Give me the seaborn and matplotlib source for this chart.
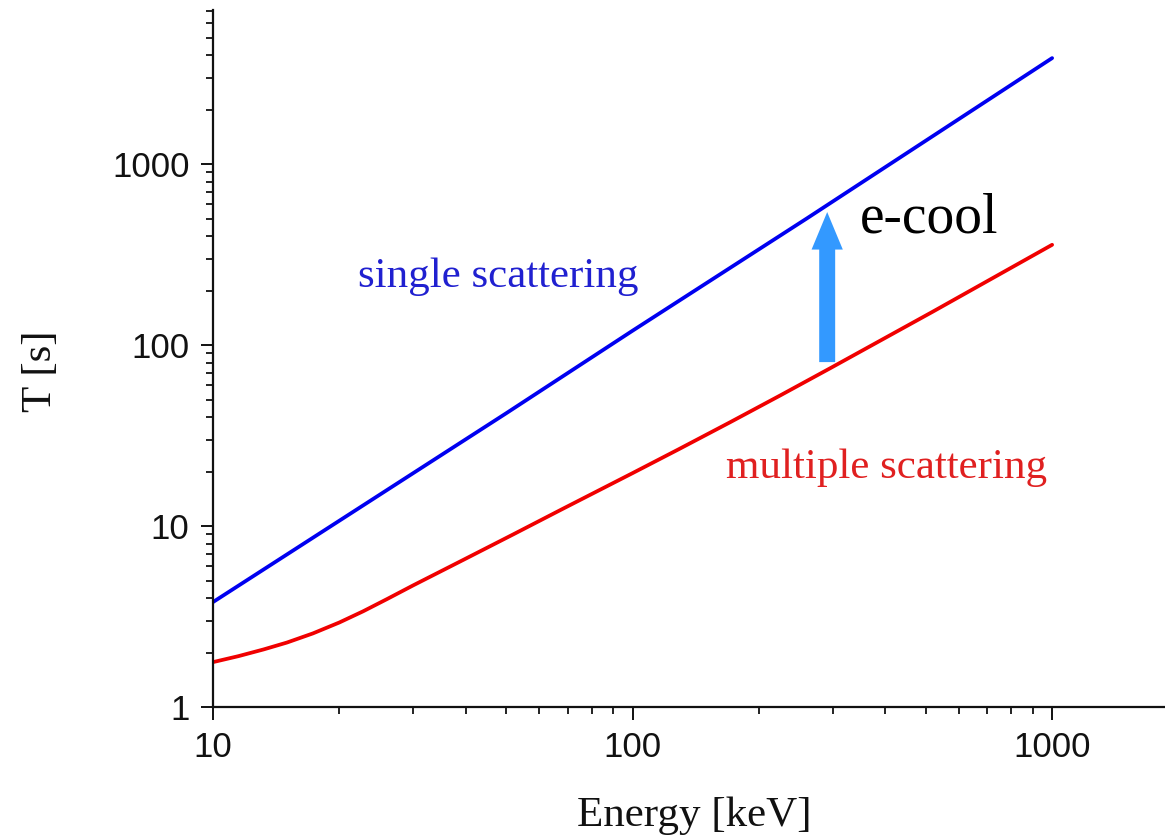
import matplotlib
matplotlib.use("Agg")
import matplotlib.pyplot as plt
import pandas as pd
import seaborn as sns
from matplotlib.ticker import FixedLocator, FixedFormatter, LogLocator, NullFormatter

# ---- data ----
energy_single = [10, 50, 100, 260, 1000]
time_single = [3.8, 42, 120, 500, 3850]

energy_multiple = [10, 11.5, 13.2, 15, 17.3, 20, 22.8, 26, 30, 39.5, 52, 68.2,
                   100, 129, 171, 225, 296, 519, 1000]
time_multiple = [1.77, 1.91, 2.08, 2.27, 2.55, 2.93, 3.38, 3.95, 4.7, 6.5, 9.0,
                 12.45, 19.6, 26.6, 37.5, 52.7, 74.5, 152.7, 358.0]

x_ticks = [10, 100, 1000]
x_tick_labels = ["10", "100", "1000"]
y_ticks = [1, 10, 100, 1000]
y_tick_labels = ["1", "10", "100", "1000"]

df_single = pd.DataFrame({"Energy": energy_single, "T": time_single})
df_multiple = pd.DataFrame({"Energy": energy_multiple, "T": time_multiple})

sns.set_style("ticks")
plt.rcParams["font.family"] = ["Liberation Sans", "DejaVu Sans"]

W, H = 1165, 840
fig = plt.figure(figsize=(W / 100, H / 100), dpi=100)
ax = fig.add_axes([213 / W, 133 / H, 952 / W, 697 / H])
ax.set_xscale("log")
ax.set_yscale("log")

sns.lineplot(data=df_single, x="Energy", y="T", color="#0000f0", lw=2.7, ax=ax)
sns.lineplot(data=df_multiple, x="Energy", y="T", color="#f00000", lw=2.7, ax=ax)

ax.set_xlim(10, 1858)
ax.set_ylim(1, 7100)

ax.xaxis.set_major_locator(FixedLocator(x_ticks))
ax.xaxis.set_major_formatter(FixedFormatter(x_tick_labels))
ax.xaxis.set_minor_locator(LogLocator(base=10, subs=range(2, 10)))
ax.xaxis.set_minor_formatter(NullFormatter())
ax.yaxis.set_major_locator(FixedLocator(y_ticks))
ax.yaxis.set_major_formatter(FixedFormatter(y_tick_labels))
ax.yaxis.set_minor_locator(LogLocator(base=10, subs=range(2, 10)))
ax.yaxis.set_minor_formatter(NullFormatter())

ax.tick_params(which="major", direction="out", length=9, width=1.4,
               labelsize=25, pad=8, colors="#111111")
ax.tick_params(which="minor", direction="out", length=5, width=1.3, colors="#111111")

for side in ["top", "right"]:
    ax.spines[side].set_visible(False)
for side in ["left", "bottom"]:
    ax.spines[side].set_linewidth(1.6)
    ax.spines[side].set_color("#111111")

serif = ["Liberation Serif", "DejaVu Serif"]
ax.set_xlabel("Energy [keV]", fontsize=31, family=serif, color="#111111")
ax.set_ylabel("T [s]", fontsize=31, family=serif, color="#111111")
ax.xaxis.set_label_coords(0.506, -0.128)
ax.yaxis.set_label_coords(-0.161, 0.482)

ax.text(22.2, 209, "single scattering", color="#2020d0", fontsize=31,
        family=serif, va="baseline", ha="left")
ax.text(167, 18.4, "multiple scattering", color="#e02020", fontsize=31,
        family=serif, va="baseline", ha="left")
ax.text(348, 416, "e-cool", color="black", fontsize=40,
        family=serif, va="baseline", ha="left")

ax.annotate("", xy=(291, 543), xytext=(291, 80.5),
            arrowprops=dict(arrowstyle="simple,head_length=27,head_width=22.5,tail_width=11.5",
                            mutation_scale=1, color="#3399ff", lw=0,
                            shrinkA=0, shrinkB=0))

fig.savefig("out.png", dpi=100)
